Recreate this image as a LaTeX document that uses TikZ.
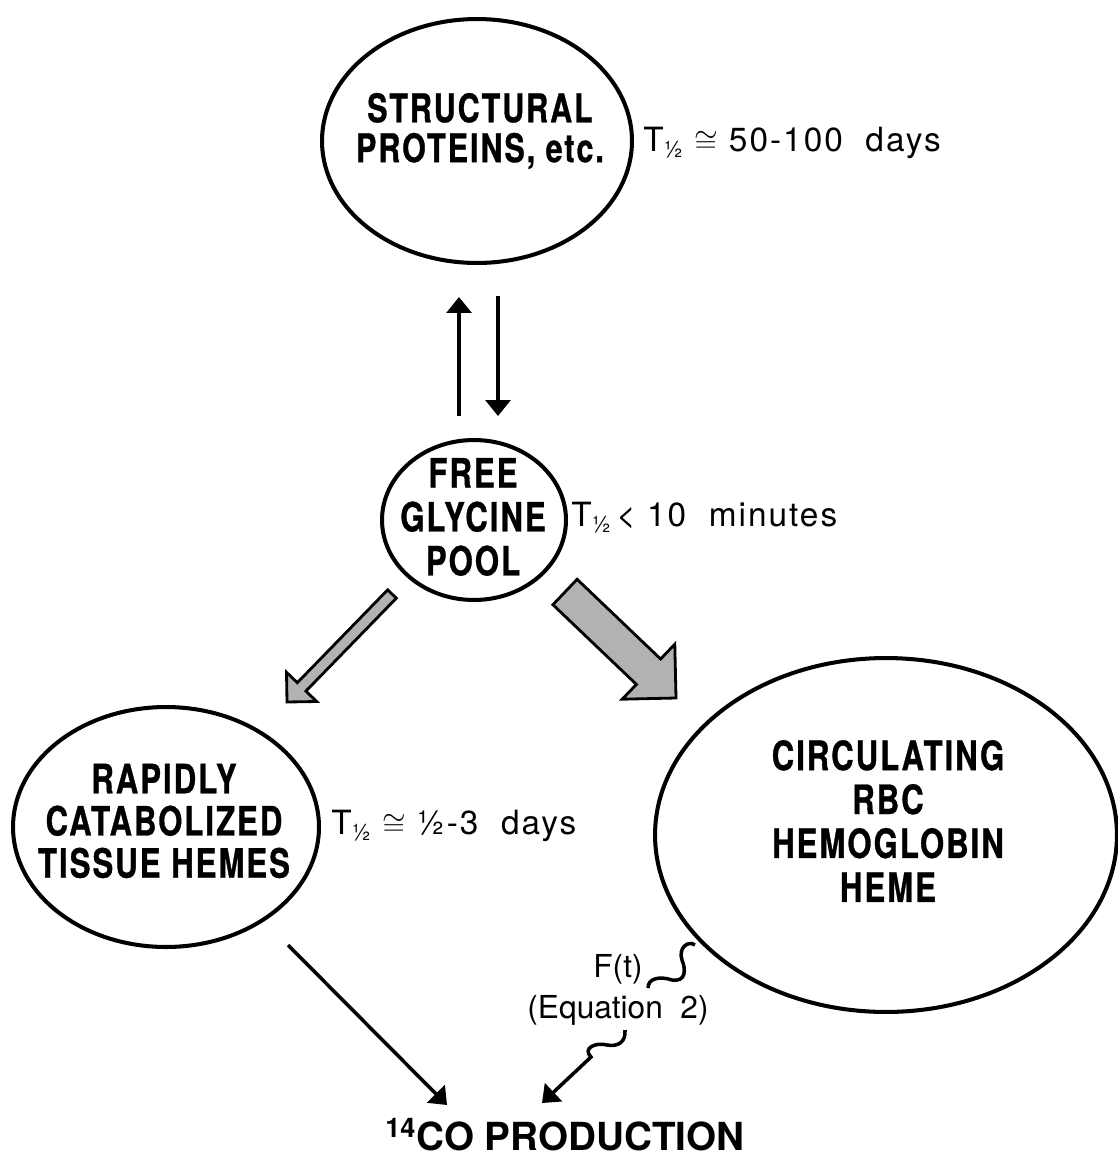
\documentclass[tikz,border=0pt]{standalone}
\usepackage{fontspec}
\setmainfont{TeX Gyre Heros}
\newfontfamily\condfont[FakeStretch=0.77,LetterSpace=5,FakeBold=0.8]{TeX Gyre Heros}
\newfontfamily\lblfont[LetterSpace=6]{TeX Gyre Heros}
\usetikzlibrary{shapes.geometric,arrows.meta,calc}
\newcommand{\Thalf}{T\raisebox{-0.35ex}{\fontsize{13}{13}\selectfont ½}}
\tikzset{
  bubble/.style={ellipse,draw,line width=2.3pt,inner sep=0pt},
  bubbletext/.style={font=\condfont\bfseries\fontsize{23}{25}\selectfont,align=center,inner sep=0pt},
  halflife/.style={font=\lblfont\fontsize{19}{22}\selectfont,anchor=west,inner sep=0pt},
  thinarrow/.style={line width=2pt,-{Triangle[width=14pt,length=9pt]}},
  fatarrow/.style={draw,line width=1.6pt,fill=gray!60,line join=miter},
  wire/.style={line width=2pt}
}
\begin{document}
\begin{tikzpicture}[x=0.02cm,y=-0.02cm]
\useasboundingbox (0,0) rectangle (1118,1163);
% pools
\node[bubble,minimum width=6.2cm,minimum height=4.88cm] (s) at (477,141) {};
\node[bubble,minimum width=3.68cm,minimum height=3.2cm] (p) at (474,520) {};
\node[bubble,minimum width=6.12cm,minimum height=4.8cm] (r) at (166,827) {};
\node[bubble,minimum width=9.24cm,minimum height=7.08cm] (h) at (886,835) {};
\node[bubbletext,font=\condfont\bfseries\fontsize{22.5}{22.7}\selectfont] (stxt) at (480,131) {STRUCTURAL\\PROTEINS, etc.};
\node[bubbletext] (ptxt) at (473,517) {FREE\\GLYCINE\\POOL};
\node[bubbletext,font=\condfont\bfseries\fontsize{23}{24}\selectfont] (rtxt) at (164,821) {RAPIDLY\\CATABOLIZED\\TISSUE HEMES};
\node[bubbletext] (htxt) at (888,821) {CIRCULATING\\RBC\\HEMOGLOBIN\\HEME};
% half lives
\node[halflife] (ts) at (643,143) {\Thalf\ $\cong$ 50-100\ \ days};
\node[halflife] (tp) at (571,518) {\Thalf\,< 10\ \ minutes};
\node[halflife] (tr) at (331,826) {\Thalf\ $\cong$ ½-3\ \ days};
\node[font=\fontsize{18}{23}\selectfont,align=center,inner sep=0pt] (f) at (618,990) {F(t)\hspace{1.2em}\\(Equation\ \ 2)};
\node[font=\bfseries\fontsize{22}{24}\selectfont,inner sep=0pt] (c) at (565,1135) {\textsuperscript{14}CO PRODUCTION};
% exchange with structural proteins
\draw[thinarrow] ($(p.north)+(-15,-22)$) -- ($(s.south)+(-18,32)$);
\draw[thinarrow] ($(s.south)+(21,31)$) -- ($(p.north)+(24,-22)$);
% heme synthesis
\draw[fatarrow] (396.3,598.2) -- (305.9,691.1) -- (316.7,701.5) -- (287,702)
  -- (286.5,672.3) -- (297.3,682.7) -- (387.7,589.8) -- cycle;
\draw[fatarrow] (577.1,579.3) -- (660.6,659.0) -- (674.8,644.2) -- (676,698)
  -- (622.2,699.2) -- (636.4,684.4) -- (552.9,604.7) -- cycle;
% CO production
\coordinate (hs) at ($(h.center)+(-191,110)$);
\coordinate (fs) at ($(f.center)+(7,40)$);
\draw[thinarrow] ($(r.center)+(122,118)$) -- ($(c.center)+(-118,-30)$);
\draw[wire] (hs) .. controls +(-7,-5) and +(-4,-12) .. ++(-13,15)
  .. controls +(4,10) and +(14,2) .. ++(-10,20)
  .. controls +(-12,-4) and +(0,-10) .. ++(-24,8);
\draw[thinarrow] (fs) .. controls +(1,12) and +(11,2) .. ++(-18,15)
  .. controls +(-11,-3) and +(-9,-9) .. ++(-16,12) -- ++(-49,46);
\end{tikzpicture}
\end{document}
